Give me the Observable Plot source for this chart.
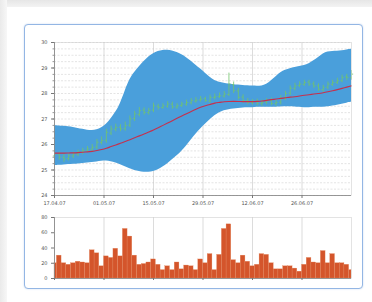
<!DOCTYPE html>
<html><head><meta charset="utf-8">
<script src="https://cdn.jsdelivr.net/npm/d3@7"></script>
<script src="https://cdn.jsdelivr.net/npm/@observablehq/plot@0.6"></script>
<style>
body{margin:0;width:372px;height:302px;background:#fff;position:relative;overflow:hidden;font-family:"DejaVu Sans",sans-serif}
#topstrip{position:absolute;left:0;top:0;width:372px;height:7px;background:linear-gradient(#e6e6e6,#f3f3f3)}
#leftstrip{position:absolute;left:0;top:0;width:7px;height:302px;background:linear-gradient(90deg,#eaeaea,#f7f7f7)}
#panel{position:absolute;left:24px;top:24px;width:337px;height:263px;border:1.5px solid #93b6e4;border-radius:4px;background:#fff;box-shadow:0 0 2px #c9d9ef}
#main{position:absolute;left:24px;top:30px}
#vol{position:absolute;left:24px;top:212px}
</style></head>
<body>
<div id="topstrip"></div><div id="leftstrip"></div><div id="panel"></div>
<div id="main"></div><div id="vol"></div>
<script>
const dateLabels = ["17.04.07","01.05.07","15.05.07","29.05.07","12.06.07","26.06.07"];
const dateTickIndex = [0, 10.5, 21, 31.5, 42, 52.5];
const priceTicks = [24, 25, 26, 27, 28, 29, 30];
const volumeTicks = [0, 20, 40, 60, 80];

const upperBand = [26.74,26.73,26.71,26.70,26.67,26.63,26.60,26.56,26.54,26.57,26.65,26.78,27.00,27.26,27.59,28.11,28.57,28.83,29.05,29.26,29.44,29.57,29.65,29.69,29.70,29.67,29.61,29.52,29.41,29.26,29.11,28.96,28.79,28.63,28.50,28.43,28.40,28.37,28.34,28.33,28.32,28.30,28.29,28.28,28.29,28.34,28.50,28.66,28.83,28.92,28.97,29.02,29.06,29.10,29.15,29.28,29.41,29.57,29.63,29.65,29.65,29.67,29.70,29.74];
const lowerBand = [25.17,25.19,25.20,25.21,25.23,25.24,25.25,25.27,25.29,25.32,25.34,25.36,25.33,25.28,25.21,25.13,25.04,24.98,24.94,24.91,24.91,24.94,25.00,25.11,25.24,25.40,25.55,25.73,25.94,26.18,26.41,26.61,26.80,26.97,27.13,27.25,27.33,27.37,27.39,27.42,27.43,27.44,27.44,27.46,27.46,27.46,27.46,27.46,27.47,27.48,27.48,27.47,27.46,27.44,27.44,27.46,27.46,27.46,27.48,27.51,27.54,27.58,27.62,27.66];
const middleBand = [25.66,25.66,25.66,25.67,25.67,25.68,25.70,25.71,25.73,25.76,25.80,25.85,25.92,25.98,26.05,26.11,26.19,26.26,26.34,26.41,26.49,26.57,26.66,26.75,26.84,26.93,27.03,27.12,27.21,27.30,27.38,27.46,27.52,27.57,27.63,27.65,27.68,27.69,27.69,27.69,27.68,27.68,27.68,27.69,27.70,27.73,27.76,27.78,27.81,27.83,27.86,27.87,27.90,27.93,27.95,27.98,28.00,28.03,28.07,28.11,28.15,28.20,28.25,28.30];
const openPrice = [25.55,25.62,25.50,25.45,25.55,25.62,25.70,25.78,25.82,25.90,26.08,26.17,26.45,26.60,26.68,26.62,26.76,27.02,27.18,27.35,27.25,27.35,27.50,27.45,27.50,27.58,27.47,27.53,27.58,27.64,27.70,27.75,27.80,27.70,27.84,27.88,27.90,27.96,28.35,28.10,27.86,27.72,27.64,27.70,27.60,27.66,27.73,27.60,27.66,27.83,28.02,28.20,28.31,28.36,28.45,28.38,28.30,28.15,28.25,28.36,28.44,28.50,28.66,28.62];
const highPrice = [25.75,25.70,25.60,25.62,25.70,25.78,25.85,25.92,26.00,26.20,26.30,26.60,26.72,26.80,26.78,26.88,27.12,27.30,27.45,27.44,27.42,27.62,27.58,27.60,27.68,27.66,27.60,27.66,27.74,27.80,27.84,27.88,27.86,27.94,27.98,28.02,28.08,28.80,28.45,28.20,27.95,27.80,27.76,27.78,27.74,27.80,27.82,27.72,27.92,28.08,28.30,28.40,28.46,28.52,28.52,28.46,28.38,28.32,28.45,28.52,28.60,28.72,28.75,28.90];
const lowPrice = [25.40,25.38,25.30,25.35,25.45,25.52,25.60,25.68,25.72,25.80,25.98,26.05,26.35,26.50,26.50,26.52,26.66,26.90,27.08,27.15,27.15,27.25,27.35,27.38,27.42,27.38,27.38,27.45,27.50,27.55,27.62,27.66,27.65,27.62,27.75,27.80,27.82,27.88,28.00,27.75,27.62,27.55,27.55,27.52,27.50,27.56,27.52,27.50,27.55,27.72,27.92,28.10,28.22,28.28,28.28,28.20,28.08,28.05,28.15,28.28,28.35,28.42,28.50,28.52];
const closePrice = [25.63,25.50,25.43,25.56,25.63,25.70,25.76,25.83,25.89,26.09,26.15,26.48,26.61,26.67,26.61,26.74,27.00,27.20,27.33,27.26,27.33,27.52,27.46,27.52,27.59,27.48,27.52,27.59,27.65,27.72,27.74,27.78,27.72,27.85,27.87,27.91,27.98,28.37,28.11,27.85,27.72,27.65,27.69,27.61,27.65,27.72,27.61,27.65,27.82,28.00,28.21,28.30,28.37,28.43,28.37,28.30,28.17,28.24,28.37,28.43,28.50,28.63,28.63,28.76];
const volume = [20,30,20,18,20,22,21,20,37,33,16,29,27,39,29,65,55,30,18,19,21,25,18,11,16,11,21,12,17,16,11,25,20,32,11,31,65,71,24,20,30,22,16,18,32,31,20,12,12,16,16,13,9,18,27,21,20,36,20,32,20,20,18,11];

const idx = d3.range(closePrice.length);
const xDomain = [0, idx.length - 1];
const minorPrice = d3.range(24, 30.01, 0.25);
const font = {fontSize: "5px", color: "#555", fontFamily: "DejaVu Sans, sans-serif", overflow: "visible"};

const main = Plot.plot({
  width: 339, height: 182,
  marginLeft: 30, marginRight: 12, marginTop: 12, marginBottom: 17,
  style: font,
  x: {domain: xDomain},
  y: {domain: [24, 30]},
  marks: [
    Plot.ruleY(minorPrice, {stroke: "#c8c8c8", strokeWidth: 0.5, strokeDasharray: "2,1.5"}),
    Plot.ruleX(dateTickIndex, {stroke: "#c4c4c4", strokeWidth: 0.6}),
    Plot.areaY(idx, {x: i => i, y1: i => lowerBand[i], y2: i => upperBand[i], fill: "#4a9fdb", curve: "basis"}),
    Plot.ruleX(idx, {x: i => i, y1: i => lowPrice[i], y2: i => highPrice[i], stroke: "#72c46c", strokeWidth: 0.8}),
    Plot.link(idx, {x1: i => i - 0.35, x2: i => i, y1: i => openPrice[i], y2: i => openPrice[i], stroke: "#72c46c", strokeWidth: 0.8}),
    Plot.link(idx, {x1: i => i, x2: i => i + 0.35, y1: i => closePrice[i], y2: i => closePrice[i], stroke: "#72c46c", strokeWidth: 0.8}),
    Plot.line(idx, {x: i => i, y: i => middleBand[i], stroke: "#c5304d", strokeWidth: 1.1, curve: "basis"}),
    Plot.frame({stroke: "#d0d0d0", strokeWidth: 0.6}),
    Plot.ruleX([0], {stroke: "#777", strokeWidth: 0.7}),
    Plot.ruleY([24], {stroke: "#777", strokeWidth: 0.7}),
    Plot.axisY(minorPrice, {tickSize: 1.5, text: null, stroke: "#999"}),
    Plot.axisY(priceTicks, {tickSize: 3, tickPadding: 4, tickFormat: d => String(d), stroke: "#777"}),
    Plot.axisX(dateTickIndex, {tickSize: 3, tickPadding: 3, tickFormat: (d, i) => dateLabels[i], stroke: "#777"})
  ]
});
document.getElementById("main").append(main);

const vol = Plot.plot({
  width: 339, height: 72,
  marginLeft: 30, marginRight: 12, marginTop: 5, marginBottom: 6,
  style: font,
  x: {domain: xDomain},
  y: {domain: [0, 80]},
  marks: [
    Plot.ruleX(dateTickIndex, {stroke: "#c4c4c4", strokeWidth: 0.6}),
    Plot.rectY(idx, {x1: i => Math.max(0, i - 0.5), x2: i => Math.min(63, i + 0.5), y1: 0, y2: i => volume[i], fill: "#d4552b", stroke: "#e58a62", strokeWidth: 0.3}),
    Plot.frame({stroke: "#d0d0d0", strokeWidth: 0.6}),
    Plot.ruleX([0], {stroke: "#777", strokeWidth: 0.7}),
    Plot.ruleY([0], {stroke: "#777", strokeWidth: 0.7}),
    Plot.axisY(volumeTicks, {tickSize: 3, tickPadding: 4, stroke: "#777"}),
    Plot.axisX(dateTickIndex, {tickSize: 2, text: null, stroke: "#777"})
  ]
});
document.getElementById("vol").append(vol);
</script>
</body></html>
